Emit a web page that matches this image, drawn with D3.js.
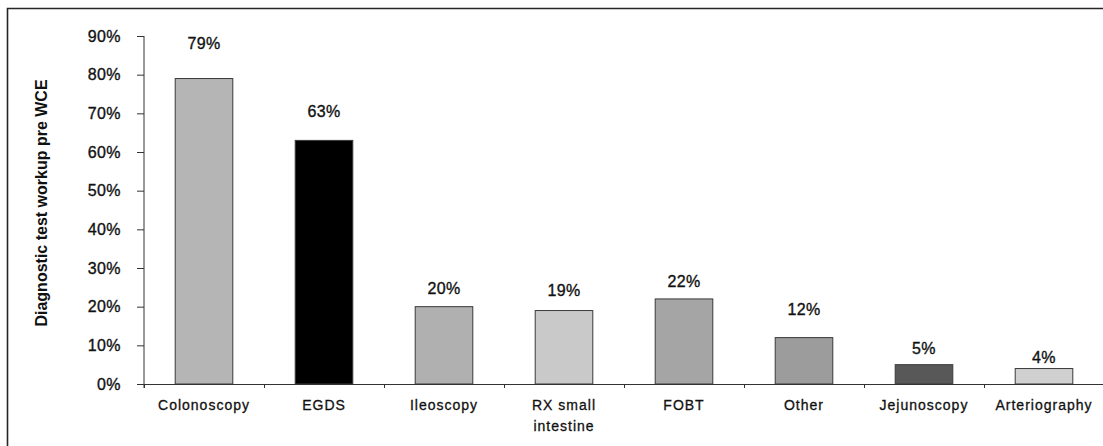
<!DOCTYPE html>
<html>
<head>
<meta charset="utf-8">
<script src="https://cdn.jsdelivr.net/npm/d3@7"></script>
<style>
  html, body { margin: 0; padding: 0; background: #fff; }
  svg { display: block; font-family: "Liberation Sans", Arial, sans-serif; }
</style>
</head>
<body>
<svg id="chart" width="1103" height="446"></svg>
<script>
// Diagnostic tests performed before wireless capsule endoscopy (WCE)
const categories = ["Colonoscopy", "EGDS", "Ileoscopy", "RX small\nintestine", "FOBT", "Other", "Jejunoscopy", "Arteriography"];
const percentages = [79, 63, 20, 19, 22, 12, 5, 4];
const barColors = ["#b5b5b5", "#000000", "#b0b0b0", "#c9c9c9", "#a5a5a5", "#9c9c9c", "#585858", "#d0d0d0"];
const yTicks = [0, 10, 20, 30, 40, 50, 60, 70, 80, 90];
// vertical gap (px) between each bar top and its value label
const labelGap = [36, 29, 19, 21, 18, 29, 17, 12];

const svg = d3.select("#chart");
const W = 1103, H = 446;
const plot = { left: 144, right: 1104, top: 36, bottom: 384 };

// outer frame (left and top edges)
svg.append("path")
  .attr("d", `M7.5,${H} V8.5 H${W}`)
  .attr("fill", "none")
  .attr("stroke", "#262626")
  .attr("stroke-width", 1.6);

const x = d3.scaleBand()
  .domain(d3.range(categories.length))
  .range([plot.left, plot.right])
  .paddingInner(0.52)
  .paddingOuter(0.26);

const y = d3.scaleLinear()
  .domain([0, 90])
  .range([plot.bottom, plot.top]);

// text weight slightly heavier than regular
function heavy(sel, w) {
  sel.attr("stroke", "#111").attr("stroke-width", w).attr("paint-order", "stroke");
}

// y axis
const yAxis = svg.append("g")
  .attr("transform", `translate(${plot.left},0)`)
  .call(d3.axisLeft(y).tickValues(yTicks).tickFormat(d => d + "%").tickSize(7).tickSizeOuter(0).tickPadding(16));
yAxis.select(".domain").attr("stroke", "#333").attr("d", `M0,${plot.top}V${plot.bottom + 4}`);
yAxis.selectAll(".tick line").attr("stroke", "#333");
yAxis.selectAll(".tick text")
  .attr("fill", "#111")
  .style("font-size", "16px")
  .style("letter-spacing", "0.4px")
  .attr("font-family", null)
  .call(heavy, 0.35);

// bars
svg.append("g").selectAll("rect")
  .data(percentages)
  .join("rect")
  .attr("x", (d, i) => x(i))
  .attr("y", d => y(d))
  .attr("width", x.bandwidth())
  .attr("height", d => y(0) - y(d))
  .attr("fill", (d, i) => barColors[i])
  .attr("stroke", "#3a3a3a")
  .attr("stroke-width", 1);

// x axis line and ticks at category boundaries
const xg = svg.append("g");
xg.append("line")
  .attr("x1", plot.left).attr("x2", plot.right)
  .attr("y1", y(0) + 0.5).attr("y2", y(0) + 0.5)
  .attr("stroke", "#333");
const step = x.step();
xg.selectAll("line.tk")
  .data(d3.range(categories.length + 1))
  .join("line")
  .attr("class", "tk")
  .attr("x1", i => plot.left + i * step + 0.5)
  .attr("x2", i => plot.left + i * step + 0.5)
  .attr("y1", y(0))
  .attr("y2", y(0) + 4)
  .attr("stroke", "#333");

// category labels
const catText = svg.append("g").selectAll("text")
  .data(categories)
  .join("text")
  .attr("x", (d, i) => x(i) + x.bandwidth() / 2)
  .attr("y", 410)
  .attr("text-anchor", "middle")
  .attr("fill", "#111")
  .style("font-size", "14px")
  .style("letter-spacing", "1px")
  .call(heavy, 0.3);
catText.each(function(d) {
  const t = d3.select(this);
  d.split("\n").forEach((line, k) => {
    t.append("tspan")
      .attr("x", t.attr("x"))
      .attr("dy", k === 0 ? 0 : 21)
      .text(line);
  });
});

// value labels
svg.append("g").selectAll("text")
  .data(percentages)
  .join("text")
  .attr("x", (d, i) => x(i) + x.bandwidth() / 2)
  .attr("y", (d, i) => y(d) - labelGap[i] + 6)
  .attr("text-anchor", "middle")
  .attr("fill", "#111")
  .style("font-size", "16px")
  .style("letter-spacing", "0.4px")
  .call(heavy, 0.35)
  .text(d => d + "%");

// y axis title
svg.append("text")
  .attr("transform", "translate(47,203) rotate(-90)")
  .attr("text-anchor", "middle")
  .attr("fill", "#111")
  .style("font-size", "16px")
  .style("font-weight", "bold")
  .text("Diagnostic test workup pre WCE");
</script>
</body>
</html>
